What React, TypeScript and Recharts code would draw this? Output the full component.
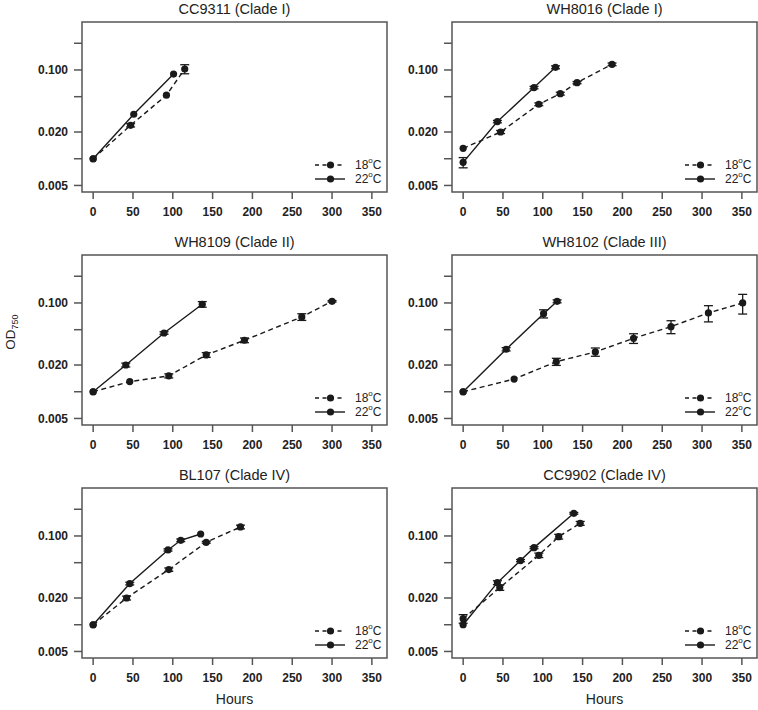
import React from "react";
import { LineChart, Line, XAxis, YAxis, ErrorBar, ReferenceArea } from "recharts";

// panel titles, in reading order
const panelTitles = [
  "CC9311 (Clade I)",
  "WH8016 (Clade I)",
  "WH8109 (Clade II)",
  "WH8102 (Clade III)",
  "BL107 (Clade IV)",
  "CC9902 (Clade IV)",
];

const xTicks = [0, 50, 100, 150, 200, 250, 300, 350];
const yTicks = [0.005, 0.01, 0.02, 0.05, 0.1, 0.2];
const yTickLabels = ["0.005", "", "0.020", "", "0.100", ""];
const temps = ["18", "22"];

// CC9311
const cc9311Hours18 = [0, 47, 92, 115];
const cc9311Od18 = [0.01, 0.0238, 0.052, 0.1026];
const cc9311Sd18 = [0, 0.001, 0, 0.012];
const cc9311Hours22 = [0, 51, 101];
const cc9311Od22 = [0.01, 0.0317, 0.09];
const cc9311Sd22 = [0, 0, 0];

// WH8016
const wh8016Hours18 = [0, 47, 95, 122, 143, 187];
const wh8016Od18 = [0.0131, 0.02, 0.0411, 0.0541, 0.072, 0.1158];
const wh8016Sd18 = [0, 0.0008, 0.0015, 0.002, 0.002, 0.004];
const wh8016Hours22 = [0, 43, 89, 116];
const wh8016Od22 = [0.0091, 0.0262, 0.0633, 0.1072];
const wh8016Sd22 = [0.0012, 0.0008, 0.002, 0.004];

// WH8109
const wh8109Hours18 = [0, 46, 95, 142, 190, 262, 300];
const wh8109Od18 = [0.01, 0.013, 0.0151, 0.026, 0.038, 0.0696, 0.1044];
const wh8109Sd18 = [0, 0, 0.0008, 0.0016, 0.0023, 0.006, 0.002];
const wh8109Hours22 = [0, 41, 89, 137];
const wh8109Od22 = [0.01, 0.02, 0.0459, 0.0966];
const wh8109Sd22 = [0, 0.001, 0.0015, 0.007];

// WH8102
const wh8102Hours18 = [0, 64, 117, 166, 214, 261, 308, 351];
const wh8102Od18 = [0.01, 0.0139, 0.0218, 0.0281, 0.04, 0.0541, 0.0772, 0.1];
const wh8102Sd18 = [0, 0, 0.002, 0.003, 0.005, 0.009, 0.016, 0.025];
const wh8102Hours22 = [0, 54, 101, 118];
const wh8102Od22 = [0.01, 0.0301, 0.0758, 0.1044];
const wh8102Sd22 = [0, 0.0013, 0.008, 0.004];

// BL107
const bl107Hours18 = [0, 42, 95, 142, 185];
const bl107Od18 = [0.01, 0.02, 0.0418, 0.0849, 0.1263];
const bl107Sd18 = [0, 0.001, 0.0018, 0.002, 0.006];
const bl107Hours22 = [0, 46, 94, 110, 135];
const bl107Od22 = [0.01, 0.0291, 0.0696, 0.0894, 0.1053];
const bl107Sd22 = [0, 0.001, 0.002, 0.003, 0];

// CC9902
const cc9902Hours18 = [0, 46, 95, 120, 147];
const cc9902Od18 = [0.0117, 0.0262, 0.0606, 0.0983, 0.1388];
const cc9902Sd18 = [0.0013, 0.0018, 0.0035, 0.006, 0.007];
const cc9902Hours22 = [0, 43, 72, 89, 139];
const cc9902Od22 = [0.01, 0.0298, 0.0528, 0.0739, 0.18];
const cc9902Sd22 = [0, 0.0015, 0.0015, 0.002, 0.004];

const toRows = (h: number[], od: number[], sd: number[]) =>
  h.map((x, i) => ({ h: x, od: od[i], sd: sd[i] }));

const panels = [
  [toRows(cc9311Hours18, cc9311Od18, cc9311Sd18), toRows(cc9311Hours22, cc9311Od22, cc9311Sd22)],
  [toRows(wh8016Hours18, wh8016Od18, wh8016Sd18), toRows(wh8016Hours22, wh8016Od22, wh8016Sd22)],
  [toRows(wh8109Hours18, wh8109Od18, wh8109Sd18), toRows(wh8109Hours22, wh8109Od22, wh8109Sd22)],
  [toRows(wh8102Hours18, wh8102Od18, wh8102Sd18), toRows(wh8102Hours22, wh8102Od22, wh8102Sd22)],
  [toRows(bl107Hours18, bl107Od18, bl107Sd18), toRows(bl107Hours22, bl107Od22, bl107Sd22)],
  [toRows(cc9902Hours18, cc9902Od18, cc9902Sd18), toRows(cc9902Hours22, cc9902Od22, cc9902Sd22)],
];

const X_DOMAIN: [number, number] = [-14, 369];
const Y_DOMAIN: [number, number] = [0.00422, 0.347];
const BOX_W = 305;
const BOX_H = 170;
const Y_AXIS_W = 82;
const TOP_PAD = 8;
const X_AXIS_H = 32;
const colLeft = [82, 452];
const rowTop = [22, 255, 488];

const INK = "#1a1a1a";
const FRAME = "#555";
const FONT = "'Liberation Sans', Arial, sans-serif";
const DASH = "5 3.5";

const tickStyle = { fill: "#222", fontSize: 12, fontWeight: "bold", fontFamily: FONT };

function Panel({ idx }: { idx: number }) {
  const [rows18, rows22] = panels[idx];
  const left = colLeft[idx % 2] - Y_AXIS_W;
  const top = rowTop[Math.floor(idx / 2)] - TOP_PAD;
  return (
    <div style={{ position: "absolute", left, top }}>
      <LineChart
        width={Y_AXIS_W + BOX_W + 1}
        height={TOP_PAD + BOX_H + X_AXIS_H}
        margin={{ top: TOP_PAD, right: 1, bottom: 0, left: 0 }}
        style={{ fontFamily: FONT }}
      >
        <XAxis
          type="number"
          dataKey="h"
          domain={X_DOMAIN}
          allowDataOverflow
          ticks={xTicks}
          interval={0}
          height={X_AXIS_H}
          axisLine={false}
          tickSize={7}
          tickMargin={8}
          tickLine={{ stroke: FRAME, strokeWidth: 1.5 }}
          tick={tickStyle}
        />
        <YAxis
          type="number"
          scale="log"
          domain={Y_DOMAIN}
          allowDataOverflow
          ticks={yTicks}
          interval={0}
          width={Y_AXIS_W}
          axisLine={false}
          tickSize={8}
          tickMargin={6}
          tickLine={{ stroke: FRAME, strokeWidth: 1.5 }}
          tick={tickStyle}
          tickFormatter={(v: number) => yTickLabels[yTicks.indexOf(v)] ?? ""}
        />
        <ReferenceArea
          x1={X_DOMAIN[0]}
          x2={X_DOMAIN[1]}
          y1={Y_DOMAIN[0]}
          y2={Y_DOMAIN[1]}
          fill="none"
          stroke={FRAME}
          strokeWidth={1.5}
        />
        <Line
          data={rows18}
          dataKey="od"
          type="linear"
          stroke={INK}
          strokeWidth={1.4}
          strokeDasharray={DASH}
          dot={{ r: 3.6, fill: INK, stroke: "none" }}
          activeDot={false}
          isAnimationActive={false}
        >
          <ErrorBar dataKey="sd" width={4.5} stroke={INK} strokeWidth={1.3} direction="y" />
        </Line>
        <Line
          data={rows22}
          dataKey="od"
          type="linear"
          stroke={INK}
          strokeWidth={1.4}
          dot={{ r: 3.6, fill: INK, stroke: "none" }}
          activeDot={false}
          isAnimationActive={false}
        >
          <ErrorBar dataKey="sd" width={4.5} stroke={INK} strokeWidth={1.3} direction="y" />
        </Line>
      </LineChart>
    </div>
  );
}

function Overlay() {
  return (
    <svg
      width={758}
      height={710}
      style={{ position: "absolute", left: 0, top: 0, pointerEvents: "none", fontFamily: FONT }}
    >
      {panelTitles.map((t, i) => {
        const bx = colLeft[i % 2];
        const by = rowTop[Math.floor(i / 2)];
        return (
          <g key={t}>
            <text
              x={bx + BOX_W / 2}
              y={by - 13.5}
              textAnchor="middle"
              dominantBaseline="central"
              fontSize={14.5}
              fill="#222"
            >
              {t}
            </text>
            {temps.map((tc, k) => {
              const ly = by + BOX_H - 27 + 14 * k;
              const rx = bx + BOX_W;
              return (
                <g key={tc}>
                  <line
                    x1={rx - 72}
                    x2={rx - 42}
                    y1={ly}
                    y2={ly}
                    stroke={INK}
                    strokeWidth={1.4}
                    strokeDasharray={k === 0 ? "4 3.5" : undefined}
                  />
                  <circle cx={rx - 56.5} cy={ly} r={3.6} fill={INK} />
                  <text x={rx - 32} y={ly} dominantBaseline="central" fontSize={12} fill="#222">
                    {tc}
                    <tspan dy={-5} fontSize={8}>
                      o
                    </tspan>
                    <tspan dy={5}>C</tspan>
                  </text>
                </g>
              );
            })}
          </g>
        );
      })}
      <text
        transform="translate(10.5,332) rotate(-90)"
        textAnchor="middle"
        dominantBaseline="central"
        fontSize={13.5}
        fill="#222"
      >
        OD
        <tspan dy={4} fontSize={9}>
          750
        </tspan>
      </text>
      {colLeft.map((bx) => (
        <text
          key={bx}
          x={bx + BOX_W / 2}
          y={699}
          textAnchor="middle"
          dominantBaseline="central"
          fontSize={14}
          fill="#222"
        >
          Hours
        </text>
      ))}
    </svg>
  );
}

export default function App() {
  return (
    <div
      style={{
        position: "absolute",
        left: 0,
        top: 0,
        width: 758,
        height: 710,
        overflow: "hidden",
        background: "#fff",
      }}
    >
      {panelTitles.map((t, i) => (
        <Panel key={t} idx={i} />
      ))}
      <Overlay />
    </div>
  );
}
